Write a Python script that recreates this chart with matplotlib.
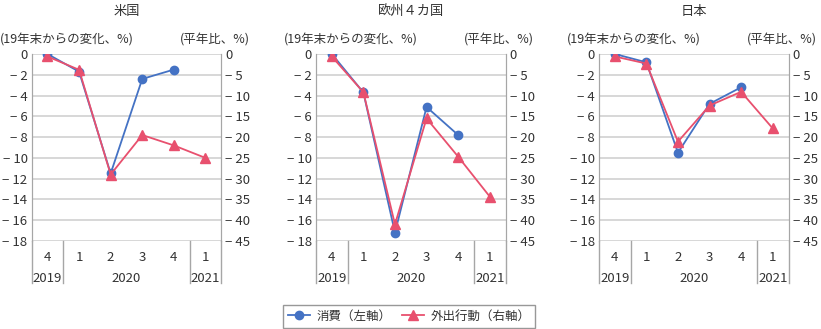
import matplotlib
matplotlib.use("Agg")
import matplotlib.pyplot as plt
from matplotlib.lines import Line2D
from matplotlib.ticker import FuncFormatter

plt.rcParams['font.family'] = ['Noto Sans CJK JP', 'DejaVu Sans']
plt.rcParams['font.size'] = 9

# quarters: 2019Q4, 2020Q1..Q4, 2021Q1
quarters = ['4', '1', '2', '3', '4', '1']
years = ['2019', '2020', '2021']
year_spans = [(0, 0), (1, 4), (5, 5)]

regions = ['米国', '欧州４カ国', '日本']

# consumption, change from end of 2019 (%), left axis
consumption = {
    '米国': [0, -1.7, -11.5, -2.4, -1.5],
    '欧州４カ国': [0, -3.7, -17.2, -5.1, -7.8],
    '日本': [0, -0.8, -9.5, -4.8, -3.2],
}
# outings, vs. normal year (%), right axis
outings = {
    '米国': [-0.6, -3.8, -29.0, -19.5, -22.0, -25.0],
    '欧州４カ国': [-0.6, -9.2, -41.0, -15.5, -24.7, -34.3],
    '日本': [-0.6, -2.3, -21.1, -12.4, -9.1, -17.9],
}

blue = '#4472C4'
red = '#E8506E'
grid_c = '#D4D4D4'
spine_c = '#A6A6A6'
text_c = '#333333'


def minus_fmt(v, pos):
    return '0' if v == 0 else '− %d' % abs(v)


fig = plt.figure(figsize=(8.21, 3.29), dpi=100)
W, H = 821, 329
lefts = [31.7, 316, 599]
ax_w = 189.5
ax_top, ax_bot = 54, 241

for region, left in zip(regions, lefts):
    ax = fig.add_axes([left / W, 1 - ax_bot / H, ax_w / W, (ax_bot - ax_top) / H])
    ax2 = ax.twinx()

    ax.set_xlim(-0.5, 5.5)
    ax.set_ylim(-18, 0)
    ax.set_yticks(range(-18, 1, 2))
    ax2.set_ylim(-45, 0)
    ax2.set_yticks(range(-45, 1, 5))
    ax.set_xticks([])
    ax.grid(axis='y', color=grid_c, linewidth=1.3)
    ax.set_axisbelow(True)

    for a in (ax, ax2):
        a.yaxis.set_major_formatter(FuncFormatter(minus_fmt))
        a.tick_params(length=0, labelsize=9.5, colors=text_c, pad=3)
        for s in ('top', 'bottom'):
            a.spines[s].set_visible(False)
        a.spines['left'].set_color(spine_c)
        a.spines['right'].set_color(spine_c)

    c = consumption[region]
    o = outings[region]
    ax.plot(range(len(c)), c, color=blue, marker='o', markersize=6, linewidth=1.3, zorder=3)
    ax2.plot(range(len(o)), o, color=red, marker='^', markersize=6.5, linewidth=1.3, zorder=3)

    ax.text(0.5, 1.225, region, transform=ax.transAxes, ha='center', va='center',
            fontsize=9.5, color=text_c)
    ax.text(-0.17, 1.04, '(19年末からの変化、%)', transform=ax.transAxes,
            ha='left', va='bottom', fontsize=9, color=text_c)
    ax.text(1.15, 1.04, '(平年比、%)', transform=ax.transAxes,
            ha='right', va='bottom', fontsize=9, color=text_c)

    # two-level category axis
    trans = ax.get_xaxis_transform()
    for i, q in enumerate(quarters):
        ax.text(i, -0.055, q, transform=trans, ha='center', va='top', fontsize=9.5, color=text_c)
    for yr, (a, b) in zip(years, year_spans):
        ax.text((a + b) / 2, -0.165, yr, transform=trans, ha='center', va='top', fontsize=9.5, color=text_c)
    for xb in (-0.5, 0.5, 4.5, 5.5):
        ax.add_line(Line2D([xb, xb], [0, -0.225], transform=trans, color=spine_c,
                           linewidth=1, clip_on=False))

handles = [
    Line2D([], [], color=blue, marker='o', markersize=6, linewidth=1.3),
    Line2D([], [], color=red, marker='^', markersize=6.5, linewidth=1.3),
]
fig.legend(handles, ['消費（左軸）', '外出行動（右軸）'], loc='center',
           bbox_to_anchor=(409 / W, 1 - 316 / H), ncol=2, frameon=True, fancybox=False,
           edgecolor='#7F7F7F', fontsize=9, handlelength=1.8, handletextpad=0.5,
           columnspacing=0.8, borderpad=0.4, labelcolor=text_c)

fig.savefig('out.png', dpi=100)
